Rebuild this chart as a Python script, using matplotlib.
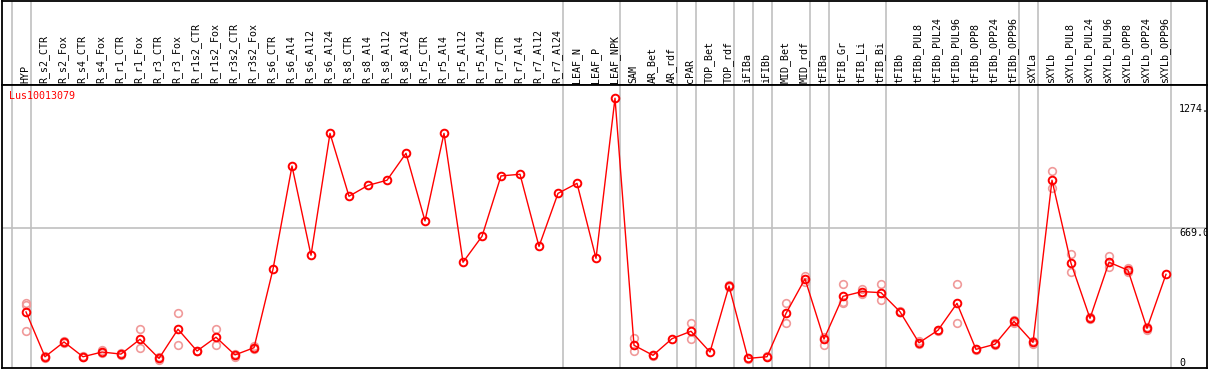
import matplotlib
matplotlib.use("Agg")
import matplotlib.pyplot as plt
from matplotlib.transforms import blended_transform_factory

categories = ["HYP", "R_s2_CTR", "R_s2_Fox", "R_s4_CTR", "R_s4_Fox", "R_r1_CTR", "R_r1_Fox",
              "R_r3_CTR", "R_r3_Fox", "R_r1s2_CTR", "R_r1s2_Fox", "R_r3s2_CTR", "R_r3s2_Fox",
              "R_s6_CTR", "R_s6_Al4", "R_s6_Al12", "R_s6_Al24", "R_s8_CTR", "R_s8_Al4",
              "R_s8_Al12", "R_s8_Al24", "R_r5_CTR", "R_r5_Al4", "R_r5_Al12", "R_r5_Al24",
              "R_r7_CTR", "R_r7_Al4", "R_r7_Al12", "R_r7_Al24", "LEAF_N", "LEAF_P", "LEAF_NPK",
              "SAM", "AR_Bet", "AR_rdf", "cPAR", "TOP_Bet", "TOP_rdf", "iFIBa", "iFIBb",
              "MID_Bet", "MID_rdf", "tFIBa", "tFIB_Gr", "tFIB_Li", "tFIB_Bi", "tFIBb",
              "tFIBb_PUL8", "tFIBb_PUL24", "tFIBb_PUL96", "tFIBb_OPP8", "tFIBb_OPP24",
              "tFIBb_OPP96", "sXYLa", "sXYLb", "sXYLb_PUL8", "sXYLb_PUL24", "sXYLb_PUL96",
              "sXYLb_OPP8", "sXYLb_OPP24", "sXYLb_OPP96"]

mean_values = [262, 44, 116, 44, 67, 57, 129, 36, 178, 72, 139, 53, 88,
               470, 972, 538, 1131, 825, 878, 903, 1034, 705, 1131, 504, 630,
               924, 932, 581, 839, 888, 523, 1302,
               100, 51, 132, 168, 67, 388, 36, 44, 255, 423,
               130, 338, 361, 356, 263, 112, 173, 304, 80, 105, 216,
               114, 903, 499, 231, 504, 465, 182, 445]

replicates = [[304, 296, 171], [50, 38, 42], [120, 112], [46, 42], [76, 60], [60, 54],
              [178, 85], [42, 28], [255, 100], [74, 70], [178, 103], [58, 44], [98, 80],
              [], [], [], [], [], [], [], [], [], [], [], [], [], [], [], [], [], [], [],
              [134, 74], [54, 47], [], [208, 130], [], [392, 384], [40, 32], [46],
              [304, 210], [438, 410], [140, 103], [400, 304, 310], [372, 350], [396, 319],
              [266, 260], [120, 104], [176, 170], [396, 207], [84, 76], [110, 100],
              [222, 210], [122, 106], [946, 864], [544, 456], [236, 226], [533, 482],
              [478, 455], [188, 176], []]

group_ends = [-1, 0, 28, 31, 34, 35, 37, 38, 39, 41, 42, 45, 52, 53, 60]

gene_name = "Lus10013079"
ref_value = 669.0
right_labels = ["1274.", "669.0", "0"]
right_label_values = [1274, 669, 0]

W, H = 1209, 370
fig = plt.figure(figsize=(W / 100, H / 100), dpi=100)

def px_axes(x0, y0, x1, y1):
    return fig.add_axes([x0 / W, 1 - y1 / H, (x1 - x0) / W, (y1 - y0) / H])

xmin = (2 - 26) / 19
xmax = (1207 - 26) / 19
ymin = (365.8 - 368) / 0.2055
ymax = (365.8 - 85) / 0.2055

ax_top = px_axes(2, 0.5, 1207, 85)
ax = px_axes(2, 85, 1207, 368)

for a in (ax_top, ax):
    a.set_xlim(xmin, xmax)
    a.set_xticks([])
    a.set_yticks([])
    for s in a.spines.values():
        s.set_color("black")
        s.set_linewidth(1.3)
    for g in group_ends:
        a.axvline(g + 0.26, color="#c0c0c0", lw=1.2, zorder=0)

ax.set_ylim(ymin, ymax)
ax_top.set_ylim(0, 1)
ax.axhline(ref_value, color="#c0c0c0", lw=1.2, zorder=0)

mono = "DejaVu Sans Mono"
xs = list(range(len(categories)))
trans = blended_transform_factory(ax_top.transData, ax_top.transAxes)
for i, c in enumerate(categories):
    ax_top.text(i - 0.05, 0.025, c, rotation=90, ha="center", va="bottom",
                fontsize=7.2, family=mono, transform=trans)

for i, reps in enumerate(replicates):
    if reps:
        ax.plot([i] * len(reps), reps, linestyle="none", marker="o", ms=5.5,
                mfc="none", mec="#f09a9a", mew=1.2, zorder=2)

ax.plot(xs, mean_values, color="#ff0000", lw=1.0, marker="o", ms=5.5,
        mfc="none", mec="#ff0000", mew=1.4, zorder=3)

ax.text(-0.88, 1337, gene_name, color="#ff0000", fontsize=7.2, family=mono,
        ha="left", va="top")

xr = (1179 - 26) / 19
ax.text(xr, 1274, right_labels[0], fontsize=7.2, family=mono, ha="left", va="top", clip_on=True)
ax.text(xr, 669, right_labels[1], fontsize=7.2, family=mono, ha="left", va="top", clip_on=True)
ax.text(xr, 0, right_labels[2], fontsize=7.2, family=mono, ha="left", va="baseline", clip_on=True)

fig.savefig("out.png", dpi=100)
